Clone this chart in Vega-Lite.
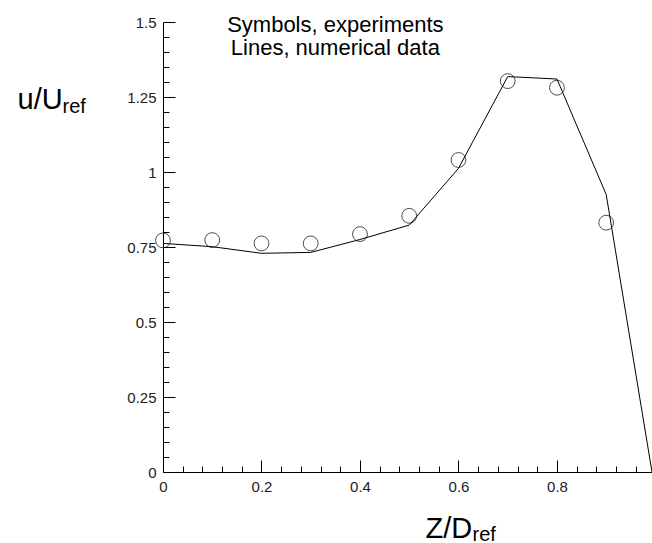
{
  "$schema": "https://vega.github.io/schema/vega-lite/v6.json",
  "width": 489,
  "height": 450,
  "autosize": {"type": "none"},
  "padding": {"left": 163, "top": 22, "right": 0, "bottom": 71},
  "background": "white",
  "config": {
    "view": {"stroke": null},
    "font": "Liberation Sans",
    "axis": {
      "labelFont": "Liberation Sans",
      "titleFont": "Liberation Sans",
      "labelColor": "#222222",
      "titleColor": "black",
      "tickColor": "black",
      "domainColor": "black",
      "domainWidth": 1,
      "tickWidth": 1,
      "grid": false,
      "titleFontWeight": "normal"
    }
  },
  "datasets": {
    "experiments": [
      {"z": 0.0, "u": 0.772},
      {"z": 0.1, "u": 0.773},
      {"z": 0.2, "u": 0.762},
      {"z": 0.3, "u": 0.762},
      {"z": 0.4, "u": 0.793},
      {"z": 0.5, "u": 0.854},
      {"z": 0.6, "u": 1.04},
      {"z": 0.7, "u": 1.303},
      {"z": 0.8, "u": 1.281},
      {"z": 0.9, "u": 0.831}
    ],
    "numerical": [
      {"z": 0.0, "u": 0.762},
      {"z": 0.1, "u": 0.751},
      {"z": 0.2, "u": 0.729},
      {"z": 0.3, "u": 0.732},
      {"z": 0.4, "u": 0.775},
      {"z": 0.5, "u": 0.823},
      {"z": 0.6, "u": 1.012},
      {"z": 0.7, "u": 1.318},
      {"z": 0.8, "u": 1.31},
      {"z": 0.9, "u": 0.925},
      {"z": 0.993, "u": 0.0}
    ]
  },
  "resolve": {"axis": {"x": "independent", "y": "independent"}},
  "layer": [
    {
      "data": {"name": "numerical"},
      "mark": {"type": "line", "color": "black", "strokeWidth": 1, "clip": true},
      "encoding": {
        "x": {
          "field": "z", "type": "quantitative",
          "scale": {"domain": [0, 0.993], "nice": false, "zero": false},
          "axis": {
            "orient": "bottom",
            "values": [0, 0.2, 0.4, 0.6, 0.8],
            "labelExpr": "'' + datum.value",
            "ticks": false,
            "labelPadding": 7,
            "labelFontSize": 15,
            "labelFlush": false,
            "title": "Z/D",
            "titleFontSize": 29,
            "titleX": 262,
            "titleY": 65,
            "titleAlign": "left",
            "titleBaseline": "alphabetic"
          }
        },
        "y": {
          "field": "u", "type": "quantitative",
          "scale": {"domain": [0, 1.5], "nice": false, "zero": false},
          "axis": {
            "orient": "left",
            "values": [0, 0.25, 0.5, 0.75, 1, 1.25, 1.5],
            "labelExpr": "'' + datum.value",
            "ticks": false,
            "labelPadding": 7,
            "labelFontSize": 15,
            "labelFlush": false,
            "title": "u/U",
            "titleFontSize": 29,
            "titleAngle": 0,
            "titleX": -146,
            "titleY": 86,
            "titleAlign": "left",
            "titleBaseline": "alphabetic"
          }
        }
      }
    },
    {
      "data": {"name": "experiments"},
      "mark": {"type": "point", "shape": "circle", "filled": false, "color": "black", "strokeWidth": 1, "size": 220},
      "encoding": {
        "x": {
          "field": "z", "type": "quantitative",
          "axis": {
            "orient": "top",
            "offset": -450,
            "values": [0, 0.04, 0.08, 0.12, 0.16, 0.2, 0.24, 0.28, 0.32, 0.36, 0.4, 0.44, 0.48, 0.52, 0.56, 0.6, 0.64, 0.68, 0.72, 0.76, 0.8, 0.84, 0.88, 0.92, 0.96],
            "labels": false,
            "domain": false,
            "ticks": true,
            "tickSize": {"condition": {"test": "abs(datum.value * 5 - round(datum.value * 5)) < 0.000001", "value": 12}, "value": 6},
            "title": "ref",
            "titleFontSize": 20,
            "titleX": 309,
            "titleY": 68,
            "titleAlign": "left",
            "titleBaseline": "alphabetic"
          }
        },
        "y": {
          "field": "u", "type": "quantitative",
          "axis": {
            "orient": "right",
            "offset": -489,
            "values": [0, 0.05, 0.1, 0.15, 0.2, 0.25, 0.3, 0.35, 0.4, 0.45, 0.5, 0.55, 0.6, 0.65, 0.7, 0.75, 0.8, 0.85, 0.9, 0.95, 1, 1.05, 1.1, 1.15, 1.2, 1.25, 1.3, 1.35, 1.4, 1.45, 1.5],
            "labels": false,
            "domain": false,
            "ticks": true,
            "tickSize": {"condition": {"test": "abs(datum.value * 4 - round(datum.value * 4)) < 0.000001", "value": 12}, "value": 6},
            "title": "ref",
            "titleFontSize": 20,
            "titleAngle": 0,
            "titleX": -101,
            "titleY": 90,
            "titleAlign": "left",
            "titleBaseline": "alphabetic"
          }
        }
      }
    },
    {
      "data": {"values": [{}]},
      "mark": {"type": "text", "fontSize": 22, "lineHeight": 23, "align": "center", "baseline": "alphabetic", "color": "black", "font": "Liberation Sans"},
      "encoding": {
        "x": {"datum": 0.35, "type": "quantitative", "axis": null},
        "y": {"datum": 1.468, "type": "quantitative", "axis": null},
        "text": {"value": ["Symbols, experiments", " Lines, numerical data"]}
      }
    }
  ]
}
